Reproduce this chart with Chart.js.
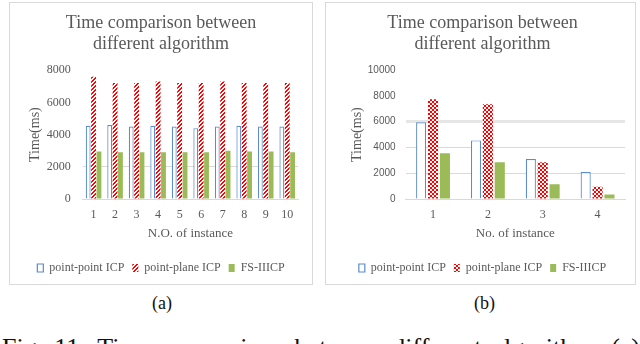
<!DOCTYPE html>
<html>
<head>
<meta charset="utf-8">
<script src="https://cdn.jsdelivr.net/npm/chart.js@4.4.1/dist/chart.umd.min.js"></script>
<style>
  body { margin: 0; width: 640px; height: 344px; background: #fff; position: relative; overflow: hidden; }
  .panel { position: absolute; top: 2px; height: 283px; border: 1px solid #d9d9d9; box-sizing: border-box; }
  #panelA { left: 9px; width: 304px; }
  #panelB { left: 325px; width: 311px; }
  .cap { position: absolute; top: 293px; font: 18px "Liberation Serif", serif; color: #111; }
  #fig { position: absolute; left: 2px; top: 335px; width: 638px; font: 26px/26px "Liberation Serif", serif; color: #111;
         text-align: justify; text-align-last: justify; white-space: nowrap; }
</style>
</head>
<body>
<div class="panel" id="panelA"><canvas id="chartA"></canvas></div>
<div class="panel" id="panelB"><canvas id="chartB"></canvas></div>
<div class="cap" style="left:152px">(a)</div>
<div class="cap" style="left:474px">(b)</div>
<div id="fig">Fig. 11: Time comparison between different algorithm. (c)</div>
<script>
'use strict';

// ---- data ----
const titleLines = ['Time comparison between', 'different algorithm'];
const seriesNames = ['point-point ICP', 'point-plane ICP', 'FS-IIICP'];

// chart (a)
const instancesA = ['1', '2', '3', '4', '5', '6', '7', '8', '9', '10'];
const pointPointA = [4550, 4600, 4500, 4550, 4500, 4400, 4500, 4550, 4500, 4500];
const pointPlaneA = [7600, 7200, 7200, 7300, 7200, 7200, 7300, 7200, 7200, 7200];
const fsIiicpA = [2950, 2900, 2900, 2900, 2900, 2900, 3000, 2950, 2950, 2900];
const yTicksA = [0, 1000, 2000, 3000, 4000, 5000, 6000, 7000, 8000];

// chart (b)
const instancesB = ['1', '2', '3', '4'];
const pointPointB = [5950, 4550, 3100, 2100];
const pointPlaneB = [7750, 7350, 2850, 950];
const fsIiicpB = [3550, 2850, 1150, 350];
const yTicksB = [0, 2000, 4000, 6000, 8000, 10000];

const textColor = '#595959';
const gridColor = '#d9d9d9';
const serif = '"Liberation Serif", serif';

function makePattern(kind) {
    const c = document.createElement('canvas');
    const s = 4;
    c.width = s; c.height = s;
    const g = c.getContext('2d');
    g.fillStyle = '#fff';
    g.fillRect(0, 0, s, s);
    g.fillStyle = '#ff0000';
    if (kind === 'diag') {
        // upward diagonal stripes
        for (let i = 0; i < s; i++) {
            g.fillRect(i, s - 1 - i, 1, 1);
            g.fillRect((i + 1) % s, s - 1 - i, 1, 1);
        }
    } else {
        // small checker
        g.fillRect(0, 0, 2, 2);
        g.fillRect(2, 2, 2, 2);
        g.fillRect(1, 1, 1, 1);
        g.fillRect(3, 3, 1, 1);
    }
    return g.createPattern(c, 'repeat');
}

function buildChart(canvasId, labels, pp, pl, fs, yTicks, opts) {
    const ctx = document.getElementById(canvasId).getContext('2d');
    return new Chart(ctx, {
        type: 'bar',
        data: {
            labels,
            datasets: [{
                label: seriesNames[0],
                data: pp,
                backgroundColor: '#ffffff',
                borderColor: '#5b8ccf',
                borderWidth: 1.2,
                borderSkipped: 'bottom'
            }, {
                label: seriesNames[1],
                data: pl,
                backgroundColor: makePattern(opts.pattern),
                borderWidth: 0
            }, {
                label: seriesNames[2],
                data: fs,
                backgroundColor: '#9bbb59',
                borderWidth: 0
            }]
        },
        options: {
            responsive: true,
            maintainAspectRatio: false,
            animation: false,
            layout: { padding: opts.padding },
            datasets: {
                bar: { categoryPercentage: opts.catPct, barPercentage: opts.barPct }
            },
            scales: {
                x: {
                    grid: { display: false, drawTicks: false },
                    border: { color: gridColor },
                    ticks: { color: textColor, font: { family: serif, size: 12 }, padding: 9 },
                    title: {
                        display: true,
                        text: opts.xTitle,
                        color: textColor,
                        font: { family: serif, size: 13 },
                        padding: { top: -6, bottom: 13 }
                    }
                },
                y: {
                    min: yTicks[0],
                    max: yTicks[yTicks.length - 1],
                    afterBuildTicks: (axis) => { axis.ticks = yTicks.map(v => ({ value: v })); },
                    grid: {
                        // upper gridlines are not visible in the source figure
                        color: (c) => {
                            if (c.tick && c.tick.value > opts.gridUpTo) return 'rgba(0,0,0,0)';
                            if (c.tick && c.tick.value === opts.thickAt) return '#e6e6e6';
                            return gridColor;
                        },
                        lineWidth: (c) => (c.tick && c.tick.value === opts.thickAt) ? 3 : 1,
                        drawTicks: false
                    },
                    border: { display: false },
                    ticks: {
                        color: textColor,
                        font: opts.yFont,
                        padding: opts.yTickPad,
                        callback: (v) => String(v)
                    },
                    title: {
                        display: true,
                        text: 'Time(ms)',
                        color: textColor,
                        font: { family: serif, size: 14 },
                        padding: opts.yTitlePad
                    }
                }
            },
            plugins: {
                title: {
                    display: true,
                    text: titleLines,
                    color: textColor,
                    font: { family: serif, size: 18, weight: 'normal', lineHeight: 1.2 },
                    padding: { top: 9, bottom: 15 }
                },
                legend: {
                    position: 'bottom',
                    labels: {
                        color: textColor,
                        font: { family: serif, size: 12 },
                        boxWidth: 6,
                        boxHeight: 8,
                        padding: 8
                    }
                },
                tooltip: { enabled: false }
            }
        }
    });
}

buildChart('chartA', instancesA, pointPointA, pointPlaneA, fsIiicpA, yTicksA, {
    pattern: 'diag',
    xTitle: 'N.O. of instance',
    yFont: { family: serif, size: 12 },
    yTickPad: 12,
    yTitlePad: { top: 3, bottom: -9 },
    catPct: 0.75,
    barPct: 0.9,
    gridUpTo: 3000,
    thickAt: null,
    padding: { left: 14, right: 14, top: 0, bottom: 0 }
});

buildChart('chartB', instancesB, pointPointB, pointPlaneB, fsIiicpB, yTicksB, {
    pattern: 'check',
    xTitle: 'No. of instance',
    yFont: { family: '"Liberation Sans", sans-serif', size: 10 },
    yTickPad: 10,
    yTitlePad: { top: 9, bottom: -8 },
    catPct: 0.65,
    barPct: 0.85,
    gridUpTo: 6000,
    thickAt: 6000,
    padding: { left: 14, right: 10, top: 0, bottom: 0 }
});
</script>
</body>
</html>
